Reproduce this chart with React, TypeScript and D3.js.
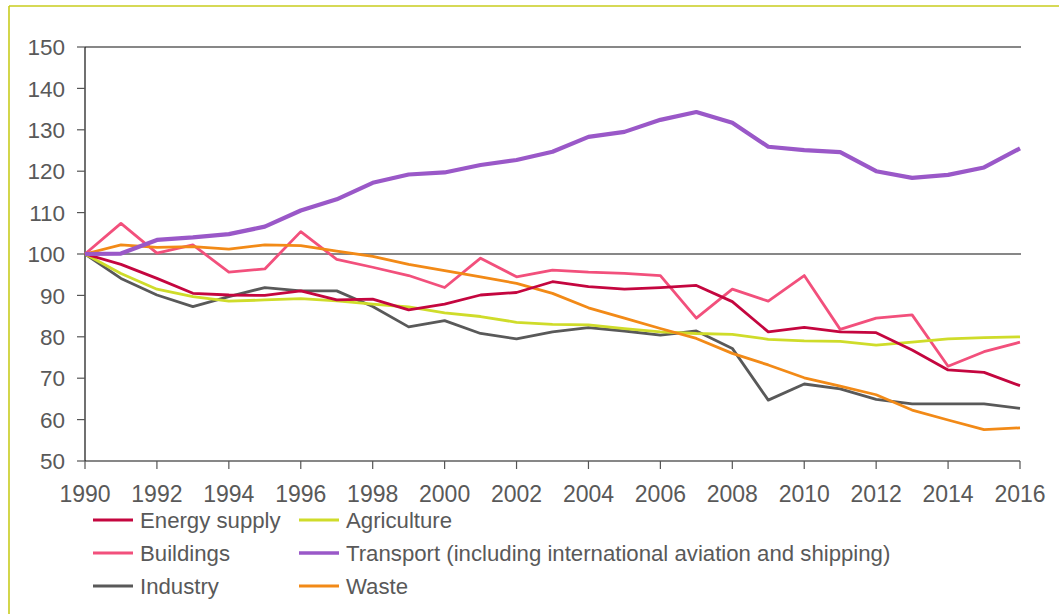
import React from "react";
import * as d3 from "d3";

const years = d3.range(1990, 2017);
const yTicks = [50, 60, 70, 80, 90, 100, 110, 120, 130, 140, 150];
const xTicks = [1990, 1992, 1994, 1996, 1998, 2000, 2002, 2004, 2006, 2008, 2010, 2012, 2014, 2016];

const energySupply = [100, 97.5, 94.1, 90.5, 90.1, 90.0, 91.1, 88.9, 89.1, 86.5, 87.9, 90.1, 90.7, 93.3, 92.1, 91.5, 91.9, 92.4, 88.5, 81.2, 82.3, 81.2, 81.0, 76.8, 72.0, 71.4, 68.2];
const agriculture = [100, 95.3, 91.5, 89.7, 88.6, 88.9, 89.2, 88.7, 87.9, 87.2, 85.8, 84.9, 83.5, 83.0, 82.9, 82.0, 81.2, 80.8, 80.6, 79.4, 79.0, 78.9, 78.0, 78.7, 79.5, 79.8, 80.0];
const buildings = [100, 107.4, 100.2, 102.2, 95.6, 96.4, 105.4, 98.7, 96.8, 94.8, 91.9, 99.0, 94.5, 96.1, 95.6, 95.3, 94.8, 84.5, 91.5, 88.6, 94.8, 81.8, 84.5, 85.3, 72.9, 76.4, 78.7];
const transport = [100, 100.1, 103.4, 104.0, 104.8, 106.6, 110.5, 113.2, 117.2, 119.2, 119.7, 121.5, 122.7, 124.7, 128.3, 129.5, 132.4, 134.3, 131.7, 125.9, 125.1, 124.6, 120.0, 118.4, 119.1, 120.9, 125.5];
const industry = [100, 94.1, 90.1, 87.3, 89.7, 91.9, 91.1, 91.1, 87.3, 82.4, 83.9, 80.8, 79.5, 81.2, 82.2, 81.4, 80.4, 81.4, 77.2, 64.7, 68.6, 67.4, 64.9, 63.8, 63.8, 63.8, 62.7];
const waste = [100, 102.2, 101.6, 101.8, 101.2, 102.2, 102.0, 100.7, 99.4, 97.5, 96.0, 94.5, 92.9, 90.5, 87.0, 84.5, 82.0, 79.6, 76.0, 73.2, 70.1, 68.1, 66.0, 62.3, 59.9, 57.6, 58.0];

const seriesNames = ["Energy supply", "Agriculture", "Buildings", "Transport (including international aviation and shipping)", "Industry", "Waste"];
const seriesValues = [energySupply, agriculture, buildings, transport, industry, waste];
const seriesColors = ["#c4063f", "#cfdc2a", "#f2507c", "#9a58c8", "#595959", "#f28a17"];
const seriesWidths = [2.8, 2.8, 2.8, 4.2, 2.8, 2.8];

const W = 1059;
const H = 614;
const left = 85;
const right = 1020;
const top = 47;
const bottom = 461;

export default function App() {
  const x = d3.scaleLinear().domain([1990, 2016]).range([left, right]);
  const y = d3.scaleLinear().domain([50, 150]).range([bottom, top]);
  const line = d3
    .line<number>()
    .x((_, i) => x(years[i]))
    .y((d) => y(d));

  const font = "'Liberation Sans', Arial, sans-serif";
  const textColor = "#595959";

  const legendCols = [93, 299];
  const legendRows = [520, 553, 586];
  const drawOrder = [2, 4, 1, 5, 0, 3];

  return (
    <svg
      width={W}
      height={H}
      style={{ position: "absolute", left: 0, top: 0, background: "#fff" }}
      fontFamily={font}
    >
      <rect x={0} y={0} width={W} height={H} fill="#fff" />
      <line x1={9} y1={6} x2={W} y2={6} stroke="#c8cc1e" strokeWidth={1.6} />
      <line x1={9} y1={6} x2={9} y2={H} stroke="#c8cc1e" strokeWidth={1.6} />

      <line x1={left} x2={right + 1} y1={y(150)} y2={y(150)} stroke="#111" strokeWidth={1.2} />
      <line x1={left} x2={right + 1} y1={y(100)} y2={y(100)} stroke="#111" strokeWidth={1.2} />

      <line x1={left} x2={left} y1={top} y2={bottom} stroke="#111" strokeWidth={1.2} />
      {yTicks.map((t) => (
        <g key={"y" + t}>
          <line x1={left - 8} x2={left} y1={y(t)} y2={y(t)} stroke="#555" strokeWidth={1.2} />
          <text x={65} y={y(t)} dy="0.36em" textAnchor="end" fontSize={22.5} fill={textColor}>
            {t}
          </text>
        </g>
      ))}

      <line x1={left} x2={right} y1={bottom} y2={bottom} stroke="#111" strokeWidth={1.2} />
      {xTicks.map((t) => (
        <g key={"x" + t}>
          <line x1={x(t)} x2={x(t)} y1={bottom} y2={bottom + 8} stroke="#555" strokeWidth={1.2} />
          <text x={x(t)} y={502} textAnchor="middle" fontSize={23} fill={textColor}>
            {t}
          </text>
        </g>
      ))}

      {drawOrder.map((si) => (
        <path
          key={seriesNames[si]}
          d={line(seriesValues[si]) || ""}
          fill="none"
          stroke={seriesColors[si]}
          strokeWidth={seriesWidths[si]}
          strokeLinejoin="round"
        />
      ))}

      {seriesNames.map((name, i) => {
        const col = i % 2;
        const row = Math.floor(i / 2);
        const lx = legendCols[col];
        const ly = legendRows[row];
        return (
          <g key={"lg" + i}>
            <line
              x1={lx}
              x2={lx + 40}
              y1={ly}
              y2={ly}
              stroke={seriesColors[i]}
              strokeWidth={i === 3 ? 3.6 : 2.8}
            />
            <text x={lx + 47} y={ly} dy="0.36em" fontSize={22.2} fill={textColor}>
              {name}
            </text>
          </g>
        );
      })}
    </svg>
  );
}
